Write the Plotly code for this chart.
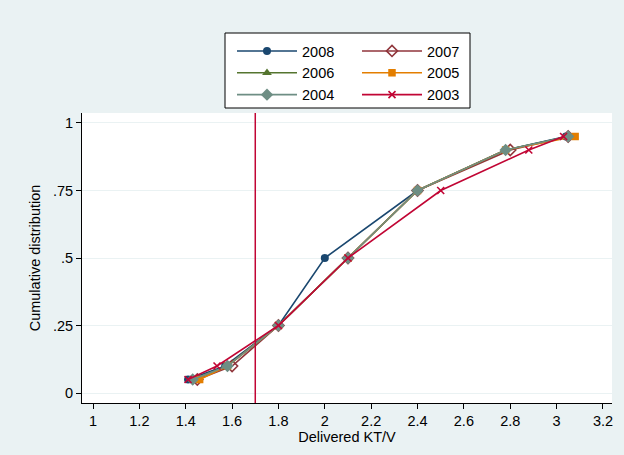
import plotly.graph_objects as go

cum = [0.05, 0.10, 0.25, 0.50, 0.75, 0.90, 0.95]
kt_2008 = [1.41, 1.57, 1.80, 2.00, 2.40, 2.78, 3.04]
kt_2007 = [1.45, 1.60, 1.80, 2.10, 2.40, 2.80, 3.05]
kt_2006 = [1.43, 1.58, 1.80, 2.10, 2.40, 2.78, 3.05]
kt_2005 = [1.46, 1.58, 1.80, 2.10, 2.40, 2.78, 3.08]
kt_2004 = [1.43, 1.58, 1.80, 2.10, 2.40, 2.78, 3.05]
kt_2003 = [1.41, 1.535, 1.80, 2.10, 2.50, 2.88, 3.03]
threshold = 1.7

x_ticks = [1, 1.2, 1.4, 1.6, 1.8, 2, 2.2, 2.4, 2.6, 2.8, 3, 3.2]
x_labels = ["1", "1.2", "1.4", "1.6", "1.8", "2", "2.2", "2.4", "2.6", "2.8", "3", "3.2"]
y_ticks = [0, 0.25, 0.5, 0.75, 1]
y_labels = ["0", ".25", ".5", ".75", "1"]

NAVY = "rgb(26,71,111)"
MAROON = "rgb(144,53,59)"
FOREST = "rgb(85,117,47)"
DKORANGE = "rgb(227,126,0)"
TEAL = "rgb(110,142,132)"
CRANBERRY = "rgb(193,5,52)"

series = [
    ("2008", kt_2008, NAVY, "circle", 8, "legend"),
    ("2007", kt_2007, MAROON, "diamond-open", 8.5, "legend2"),
    ("2006", kt_2006, FOREST, "triangle-up", 8.5, "legend"),
    ("2005", kt_2005, DKORANGE, "square", 7.5, "legend2"),
    ("2004", kt_2004, TEAL, "diamond", 9.5, "legend"),
    ("2003", kt_2003, CRANBERRY, "x-thin-open", 7, "legend2"),
]

fig = go.Figure()
for name, xs, col, sym, sz, leg in series:
    marker = dict(symbol=sym, size=sz, color=col)
    if sym.endswith("open"):
        marker["line"] = dict(color=col, width=1.6)
    fig.add_trace(go.Scatter(
        x=xs, y=cum, mode="lines+markers", name=name,
        line=dict(color=col, width=1.6), marker=marker, legend=leg,
    ))

BG = "rgb(234,242,243)"
L, R, T, B = 82, 12, 113, 52
W, H = 624, 455
pw, ph = W - L - R, H - T - B

def px_x(p):
    return (p - L) / pw

def px_y(p):
    return (H - B - p) / ph

fig.add_shape(type="line", xref="x", yref="paper", x0=threshold, x1=threshold,
              y0=0, y1=1, line=dict(color=CRANBERRY, width=1.5), layer="above")
fig.add_shape(type="rect", xref="paper", yref="paper",
              x0=px_x(225), x1=px_x(470), y0=px_y(108), y1=px_y(33),
              fillcolor="white", line=dict(color="black", width=1), layer="below")

legfont = dict(family="Liberation Sans, Arial, sans-serif", size=14.5, color="black")
fig.update_layout(
    width=W, height=H,
    margin=dict(l=L, r=R, t=T, b=B),
    paper_bgcolor=BG, plot_bgcolor="white",
    font=dict(family="Liberation Sans, Arial, sans-serif", size=14, color="black"),
    legend=dict(x=px_x(232), y=px_y(35), xanchor="left", yanchor="top",
                bgcolor="rgba(0,0,0,0)", font=legfont, itemwidth=60,
                tracegroupgap=0),
    legend2=dict(x=px_x(357), y=px_y(35), xanchor="left", yanchor="top",
                 bgcolor="rgba(0,0,0,0)", font=legfont, itemwidth=60,
                 tracegroupgap=0),
    showlegend=True,
)
fig.update_xaxes(
    range=[0.9525, 3.239], tickvals=x_ticks, ticktext=x_labels,
    showgrid=False, zeroline=False, showline=True, linecolor="black", linewidth=1,
    ticks="outside", ticklen=5, tickcolor="black",
    tickfont=dict(size=14.5), automargin=False,
    title=dict(text="Delivered KT/V", font=dict(size=14.5), standoff=2),
)
fig.update_yaxes(
    range=[-0.037, 1.037], tickvals=y_ticks, ticktext=y_labels,
    showgrid=True, gridcolor=BG, gridwidth=1, zeroline=False,
    showline=True, linecolor="black", linewidth=1,
    ticks="outside", ticklen=5, tickcolor="black",
    tickfont=dict(size=14.5), automargin=False,
    title=dict(text="Cumulative distribution", font=dict(size=14.5), standoff=8),
)

fig.write_html(
    "out.html",
    config={"displayModeBar": False},
    post_script="document.body.style.margin='0';document.body.style.background='rgb(234,242,243)';",
)
